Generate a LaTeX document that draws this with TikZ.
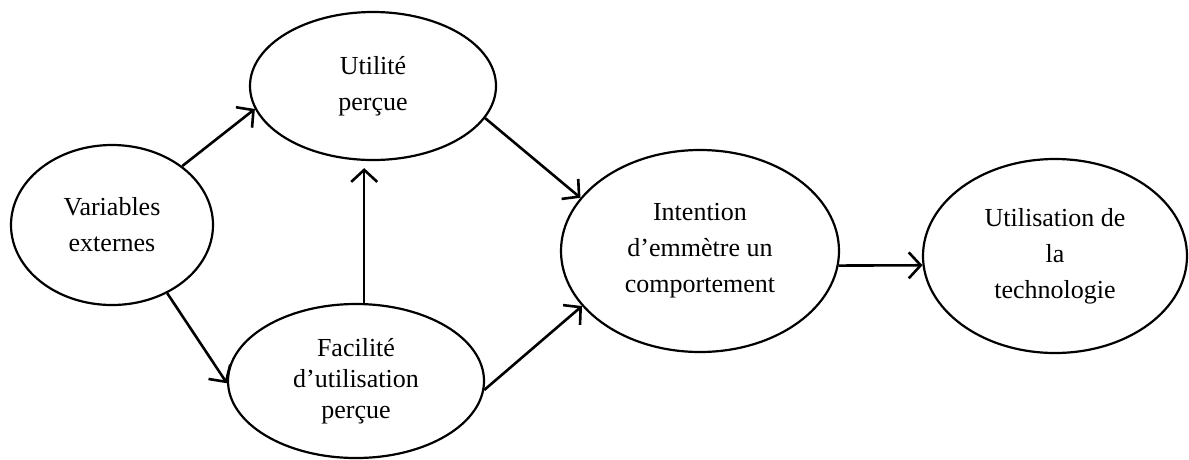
\documentclass[tikz,border=0pt]{standalone}
\usepackage{fontspec}
\setmainfont{Liberation Serif}
\usetikzlibrary{shapes.geometric,arrows.meta}
\begin{document}
\begin{tikzpicture}[x=1pt,y=-1pt,
  concept/.style={ellipse,draw=black,line width=2.2pt,inner sep=0pt,align=center,
    font=\fontsize{26}{36}\selectfont},
  link/.style={line width=2.6pt,-{Straight Barb[length=12pt,width=26pt]}}]
\useasboundingbox (0,0) rectangle (1189,459);

% the five constructs of the model
\node[concept,minimum width=202pt,minimum height=160pt] (var) at (112,225) {Variables\\externes};
\node[concept,minimum width=246pt,minimum height=148pt] (util) at (373,86) {Utilité\\perçue};
\node[concept,minimum width=256pt,minimum height=154pt,font=\fontsize{26}{31}\selectfont] (facil) at (356,381) {Facilité\\d’utilisation\\perçue};
\node[concept,minimum width=278pt,minimum height=202pt] (inten) at (700,251) {Intention\\d’emmètre un\\comportement};
\node[concept,minimum width=264pt,minimum height=194pt] (usage) at (1055,256) {Utilisation de\\la\\technologie};

% causal links
\draw[link] (var.40) -- (util.191);
\draw[link] (var.-51) -- (facil.181);
\draw[link,shorten >=7pt] (facil.84) -- (facil.84 |- util.south);
\draw[link] (util.-16) -- (inten.156);
\draw[link] (facil.-4) -- (inten.205);
\draw[link] (inten.-6.6) -- (usage.184.8);
\end{tikzpicture}
\end{document}
